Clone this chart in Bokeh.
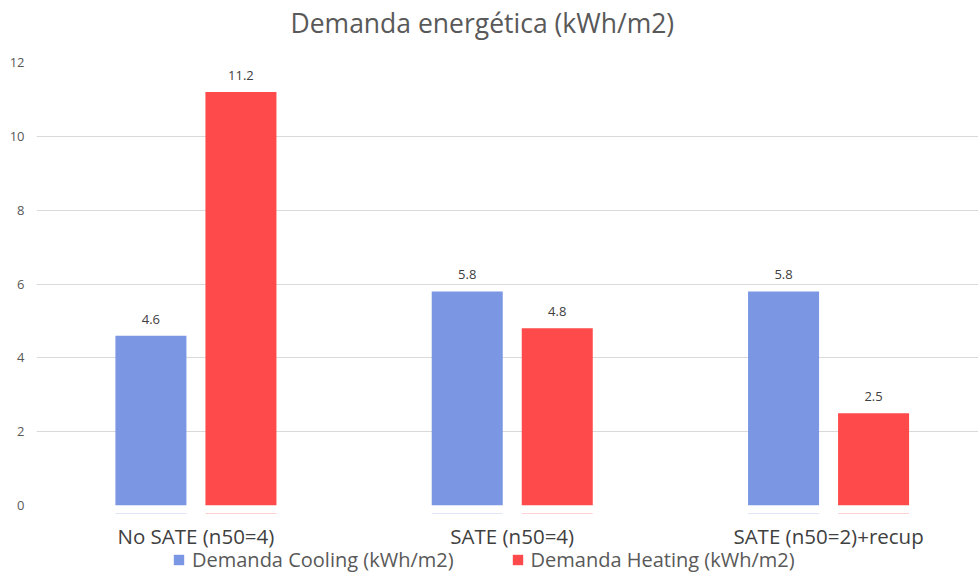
from bokeh.plotting import figure
from bokeh.layouts import column
from bokeh.models import (ColumnDataSource, Legend, LegendItem, LabelSet, Label, Range1d,
                          SingleIntervalTicker)
from bokeh.core.properties import value
from bokeh.embed import file_html
from bokeh.resources import INLINE

categories = ["No SATE (n50=4)", "SATE (n50=4)", "SATE (n50=2)+recup"]
cooling = [4.6, 5.8, 5.8]
heating = [11.2, 4.8, 2.5]
series_names = ["Demanda Cooling (kWh/m2)", "Demanda Heating (kWh/m2)"]
title_text = "Demanda energética (kWh/m2)"

BLUE = "#7b97e4"
RED = "#fe4a4a"
FONT = "Open Sans"

w = 0.2245
off = 0.1423
pos = [i + 0.5 for i in range(len(categories))]

src = ColumnDataSource(dict(
    pos=pos, cat=categories,
    xc=[x - off for x in pos], xh=[x + off for x in pos],
    cooling=cooling, heating=heating,
    cl=[f"{v:.1f}" for v in cooling], hl=[f"{v:.1f}" for v in heating],
))

xr = Range1d(-0.004, 2.974)

def strip(height):
    f = figure(width=978, height=height, x_range=xr, y_range=Range1d(-2, -1),
               title=None, output_backend="svg", toolbar_location=None,
               min_border_left=36, min_border_right=0, min_border_top=0, min_border_bottom=0)
    f.axis.visible = False
    f.grid.visible = False
    f.outline_line_color = None
    return f

# title strip
tp = strip(54)
tp.add_layout(Label(x=254, y=32, x_units="screen", y_units="screen", text=title_text,
                    text_align="left", text_baseline="middle", text_font=FONT,
                    text_font_size="26.5px", text_color="#595959"))

# main chart
p = figure(width=978, height=459, x_range=xr, y_range=Range1d(0, 12), title=None,
           output_backend="svg", toolbar_location=None,
           min_border_left=36, min_border_right=0, min_border_top=8, min_border_bottom=8)

r1 = p.vbar(x="xc", top="cooling", width=w, source=src, fill_color=BLUE, line_color=None)
r2 = p.vbar(x="xh", top="heating", width=w, source=src, fill_color=RED, line_color=None)

for col, lab, xcol in (("cooling", "cl", "xc"), ("heating", "hl", "xh")):
    p.add_layout(LabelSet(x=xcol, y=col, text=lab, source=src,
                          text_align="center", text_baseline="bottom", y_offset=12,
                          text_font=value(FONT), text_font_size="13px", text_color="#404040"))

p.outline_line_color = None
p.xgrid.grid_line_color = None
p.ygrid.grid_line_color = "#d9d9d9"
p.xaxis.visible = False
p.yaxis.ticker = SingleIntervalTicker(interval=2)
p.yaxis.axis_line_color = None
p.yaxis.major_tick_line_color = None
p.yaxis.minor_tick_line_color = None
p.yaxis.major_tick_out = 0
p.yaxis.major_tick_in = 0
p.yaxis.major_label_text_font = FONT
p.yaxis.major_label_text_font_size = "13px"
p.yaxis.major_label_text_color = "#595959"
p.yaxis.major_label_standoff = 8

# strip below the chart: category names and legend
lg = strip(65)
g1 = lg.vbar(x="xc", top="cooling", width=w, source=src, fill_color=BLUE, line_color=None)
g2 = lg.vbar(x="xh", top="heating", width=w, source=src, fill_color=RED, line_color=None)

lg.add_layout(LabelSet(x="pos", y=43, y_units="screen", text="cat", source=src,
                       text_align="center", text_baseline="middle",
                       text_font=value(FONT), text_font_size="20.5px", text_color="#404040"))

legend = Legend(items=[LegendItem(label=series_names[0], renderers=[g1]),
                       LegendItem(label=series_names[1], renderers=[g2])],
                orientation="horizontal", location=(136, 5),
                label_text_font=FONT, label_text_font_size="20px", label_text_color="#595959",
                label_text_line_height=1.0, label_height=20,
                glyph_width=13, glyph_height=13, label_standoff=7, spacing=57,
                padding=0, margin=0, border_line_color=None, background_fill_alpha=0)
lg.add_layout(legend, "center")

layout = column(tp, p, lg, spacing=0)
open("out.html", "w").write(file_html(layout, INLINE))
